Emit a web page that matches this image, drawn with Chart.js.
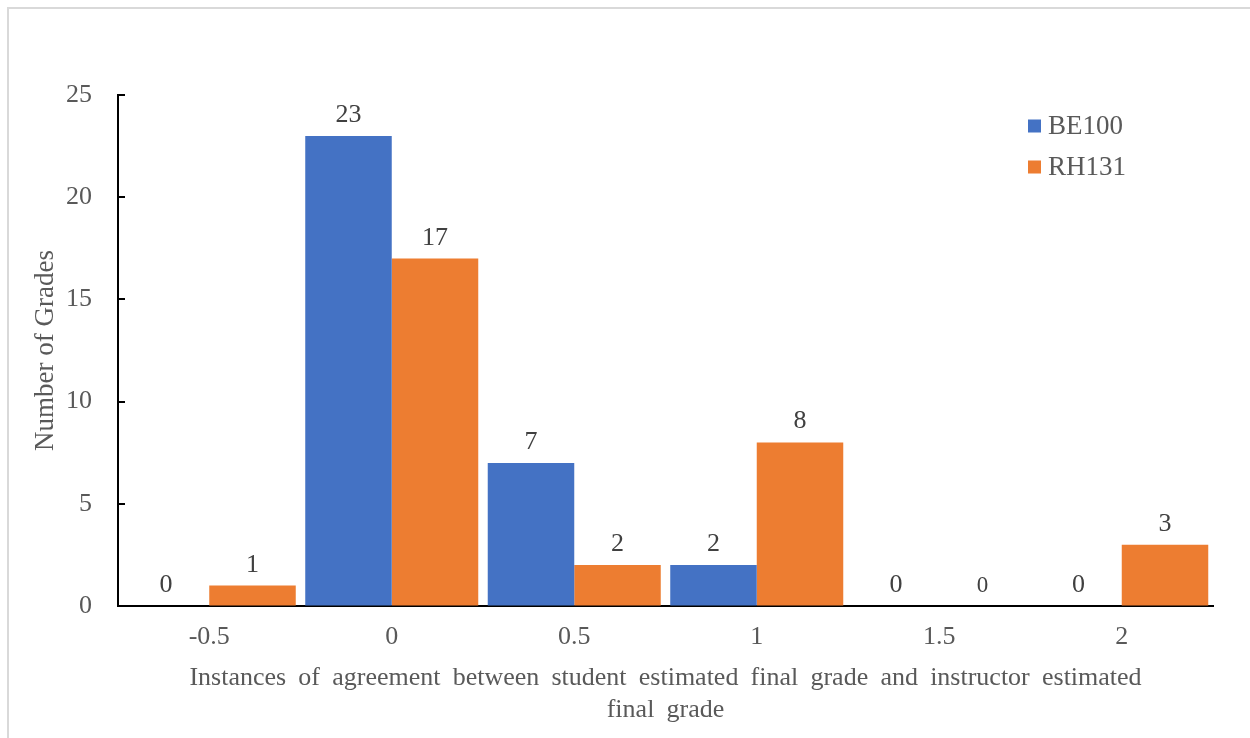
<!DOCTYPE html>
<html>
<head>
<meta charset="utf-8">
<title>Agreement between student and instructor estimated final grade</title>
<script src="https://cdn.jsdelivr.net/npm/chart.js@4.4.1/dist/chart.umd.min.js"></script>
<style>
  html, body { margin: 0; padding: 0; background: #ffffff; }
  #wrap { position: relative; width: 1250px; height: 738px; }
  canvas { display: block; }
</style>
</head>
<body>
<div id="wrap"><canvas id="chart" width="1250" height="738"></canvas></div>
<script>
// Agreement offsets between the two grade estimates
const categories = ['-0.5', '0', '0.5', '1', '1.5', '2'];
// Number of grades per course
const be100 = [0, 23, 7, 2, 0, 0];
const rh131 = [1, 17, 2, 8, 0, 3];
// Y-axis ticks
const yTicks = [0, 5, 10, 15, 20, 25];

const FONT = "'Liberation Serif', 'Times New Roman', Times, serif";
const GREY = '#595959';

// Thin frame along the top and left edges of the figure
const framePlugin = {
  id: 'frame',
  beforeDraw(chart) {
    const ctx = chart.ctx;
    ctx.save();
    ctx.fillStyle = '#ffffff';
    ctx.fillRect(0, 0, chart.width, chart.height);
    ctx.strokeStyle = '#d9d9d9';
    ctx.lineWidth = 2;
    ctx.beginPath();
    ctx.moveTo(8, chart.height);
    ctx.lineTo(8, 8);
    ctx.lineTo(chart.width, 8);
    ctx.stroke();
    ctx.restore();
  }
};

// Justified-looking word spacing for the category axis title
const titleSpacingPlugin = {
  id: 'titleSpacing',
  afterUpdate(chart, args, opts) {
    const s = chart.scales.x;
    if (!s || s._spacedTitle) return;
    const orig = s.drawTitle;
    s.drawTitle = function () {
      const ctx = this.ctx;
      ctx.save();
      if ('wordSpacing' in ctx) ctx.wordSpacing = opts.spacing;
      orig.call(this);
      ctx.restore();
    };
    s._spacedTitle = true;
  }
};

// Inward tick marks on the value axis
const innerTicksPlugin = {
  id: 'innerTicks',
  afterDraw(chart) {
    const y = chart.scales.y;
    const ctx = chart.ctx;
    const x0 = chart.chartArea.left;
    ctx.save();
    ctx.strokeStyle = '#000000';
    ctx.lineWidth = 2;
    y.ticks.forEach(t => {
      const py = Math.round(y.getPixelForValue(t.value));
      ctx.beginPath();
      ctx.moveTo(x0, py);
      ctx.lineTo(x0 + 7, py);
      ctx.stroke();
    });
    ctx.restore();
  }
};

// Value labels above each bar
const valueLabelsPlugin = {
  id: 'valueLabels',
  afterDatasetsDraw(chart, args, opts) {
    const ctx = chart.ctx;
    ctx.save();
    ctx.fillStyle = opts.color;
    ctx.textAlign = 'center';
    ctx.textBaseline = 'alphabetic';
    chart.data.datasets.forEach((ds, di) => {
      const meta = chart.getDatasetMeta(di);
      meta.data.forEach((bar, i) => {
        const key = di + ':' + i;
        const size = (opts.sizeOverride && opts.sizeOverride[key]) || opts.size;
        ctx.font = size + 'px ' + FONT;
        ctx.fillText(String(ds.data[i]), bar.x, bar.y - opts.offset);
      });
    });
    ctx.restore();
  }
};

// Vertical legend placed inside the plot area
const insideLegendPlugin = {
  id: 'insideLegend',
  afterDraw(chart, args, opts) {
    const ctx = chart.ctx;
    ctx.save();
    ctx.font = opts.size + 'px ' + FONT;
    ctx.textBaseline = 'middle';
    ctx.textAlign = 'left';
    chart.data.datasets.forEach((ds, di) => {
      const cy = opts.y + di * opts.spacing;
      ctx.fillStyle = ds.backgroundColor;
      ctx.fillRect(opts.x, cy - opts.box / 2, opts.box, opts.box);
      ctx.fillStyle = GREY;
      ctx.fillText(ds.label, opts.x + opts.box + 7, cy + 1);
    });
    ctx.restore();
  }
};

new Chart(document.getElementById('chart'), {
  type: 'bar',
  data: {
    labels: categories,
    datasets: [
      { label: 'BE100', data: be100, backgroundColor: '#4472C4' },
      { label: 'RH131', data: rh131, backgroundColor: '#ED7D31' }
    ]
  },
  options: {
    responsive: false,
    animation: false,
    devicePixelRatio: 1,
    layout: { padding: { left: 20, top: 95, right: 37, bottom: 0 } },
    datasets: { bar: { categoryPercentage: 0.948, barPercentage: 1.0 } },
    plugins: {
      legend: { display: false },
      tooltip: { enabled: false },
      titleSpacing: { spacing: '5.7px' },
      valueLabels: { color: '#404040', size: 26, offset: 14, sizeOverride: { '1:4': 23 } },
      insideLegend: { x: 1028, y: 126, spacing: 41, box: 13, size: 27 }
    },
    scales: {
      x: {
        afterFit(scale) { scale.height = 132; },
        grid: { display: true, drawOnChartArea: false, drawTicks: false },
        border: { display: true, color: '#000000', width: 2 },
        ticks: { color: GREY, padding: 16, font: { family: FONT, size: 26 } },
        title: {
          display: true,
          text: ['Instances of agreement between student estimated final grade and instructor estimated', 'final grade'],
          color: GREY,
          font: { family: FONT, size: 26, lineHeight: 32 / 26 },
          padding: { top: 9, bottom: 12 }
        }
      },
      y: {
        min: 0,
        max: 25,
        afterFit(scale) { scale.width = 98; },
        afterBuildTicks(scale) { scale.ticks = yTicks.map(v => ({ value: v })); },
        grid: { display: true, drawOnChartArea: false, drawTicks: false },
        border: { display: true, color: '#000000', width: 2 },
        ticks: { color: GREY, padding: 26, font: { family: FONT, size: 26 } },
        title: {
          display: true,
          text: 'Number of Grades',
          color: GREY,
          font: { family: FONT, size: 27, lineHeight: 1.2 },
          padding: { top: 10, bottom: 0 }
        }
      }
    }
  },
  plugins: [framePlugin, titleSpacingPlugin, valueLabelsPlugin, innerTicksPlugin, insideLegendPlugin]
});
</script>
</body>
</html>
